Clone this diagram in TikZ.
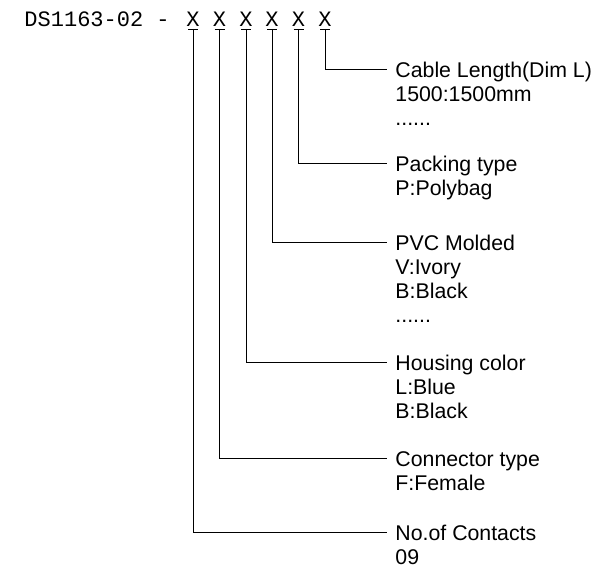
\documentclass[tikz,border=0pt]{standalone}
\usepackage{fontspec}
\setmainfont{Liberation Sans}
\newfontfamily\codefont{Liberation Mono}
\usetikzlibrary{positioning}

\begin{document}
\begin{tikzpicture}[x=1pt, y=-1pt, line width=0.9pt,
        code/.style = {font=\codefont\fontsize{22}{24}\selectfont, inner sep=0pt},
        lbl/.style = {font=\fontsize{21.3}{24}\selectfont, align=left, anchor=north west, inner sep=0pt}]
        \useasboundingbox (0,0) rectangle (608,573);
        \node[code, anchor=base west] (t) at (24,26.5) {DS1163-02 -};
        \foreach \i/\x in {1/193, 2/219.5, 3/246, 4/272, 5/298.5, 6/325}
            \node[code, anchor=base, text depth=2pt] (x\i) at (\x,26.5) {X};

        % first line carries a strut, so the top edge sits 9.2pt above the cap middle
        \node[lbl] (6) at (395,60.1) {\strut Cable Length(Dim L)\\1500:1500mm\\......};
        \node[lbl] (5) at (395,154.1) {\strut Packing type\\P:Polybag};
        \node[lbl] (4) at (395,233.5) {\strut PVC Molded\\V:Ivory\\B:Black\\......};
        \node[lbl] (3) at (395,353.3) {\strut Housing color\\L:Blue\\B:Black};
        \node[lbl] (2) at (395,449.1) {\strut Connector type\\F:Female};
        \node[lbl] (1) at (395,523.1) {\strut No.of Contacts\\09};

        \foreach \i in {1,...,6}
            \draw ([xshift=-5pt]x\i.south) -- ([xshift=5pt]x\i.south)
                  (x\i.south) |- ([xshift=-8pt,yshift=-9.2pt]\i.north west);
    \end{tikzpicture}
\end{document}
